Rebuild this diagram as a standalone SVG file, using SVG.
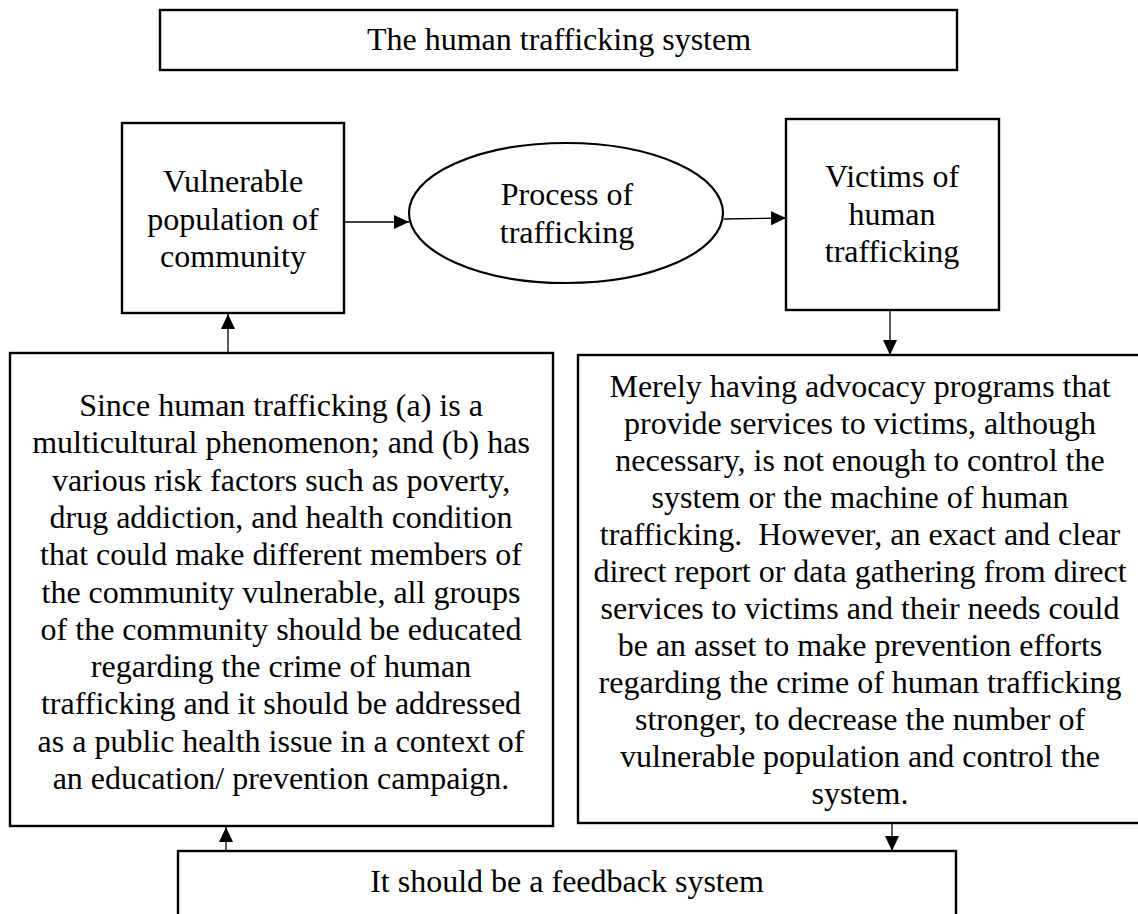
<svg xmlns="http://www.w3.org/2000/svg" width="1138" height="914" viewBox="0 0 1138 914">
<style>
.box{fill:#fff;stroke:#000;stroke-width:2.4}
.ell{fill:#fff;stroke:#000;stroke-width:2.2}
.t{font-family:"Liberation Serif","Times New Roman",serif;font-size:32px;fill:#000;text-anchor:middle}
.c{stroke:#000;stroke-width:1.3;fill:none}
</style>
<defs>
<marker id="ah" markerUnits="userSpaceOnUse" markerWidth="16" markerHeight="14" refX="15" refY="7" orient="auto">
<path d="M0,0 L15,7 L0,14 Z" fill="#000"/>
</marker>
</defs>
<rect width="1138" height="914" fill="#fff"/>
<g id="title">
<rect class="box" x="160" y="10" width="797" height="60"/>
<text class="t" x="559" y="50">The human trafficking system</text>
</g>
<g id="vulnerable">
<rect class="box" x="122" y="123" width="222" height="190"/>
<text class="t" x="233" y="192">Vulnerable</text>
<text class="t" x="233" y="230">population of</text>
<text class="t" x="233" y="267">community</text>
</g>
<g id="process">
<ellipse class="ell" cx="566" cy="213" rx="157" ry="70"/>
<text class="t" x="567" y="205">Process of</text>
<text class="t" x="567" y="243">trafficking</text>
</g>
<g id="victims">
<rect class="box" x="786" y="119" width="213" height="191"/>
<text class="t" x="892" y="187">Victims of</text>
<text class="t" x="892" y="225">human</text>
<text class="t" x="892" y="262">trafficking</text>
</g>
<g id="education">
<rect class="box" x="10" y="353" width="543" height="473"/>
<text class="t" x="281" y="416">Since human trafficking (a) is a</text>
<text class="t" x="281" y="453.3">multicultural phenomenon; and (b) has</text>
<text class="t" x="281" y="490.6">various risk factors such as poverty,</text>
<text class="t" x="281" y="527.9">drug addiction, and health condition</text>
<text class="t" x="281" y="565.2">that could make different members of</text>
<text class="t" x="281" y="602.5">the community vulnerable, all groups</text>
<text class="t" x="281" y="639.8">of the community should be educated</text>
<text class="t" x="281" y="677.1">regarding the crime of human</text>
<text class="t" x="281" y="714.4">trafficking and it should be addressed</text>
<text class="t" x="281" y="751.7">as a public health issue in a context of</text>
<text class="t" x="281" y="789">an education/ prevention campaign.</text>
</g>
<g id="advocacy">
<rect class="box" x="578" y="355" width="564" height="468"/>
<text class="t" x="860" y="397">Merely having advocacy programs that</text>
<text class="t" x="860" y="434">provide services to victims, although</text>
<text class="t" x="860" y="471">necessary, is not enough to control the</text>
<text class="t" x="860" y="508">system or the machine of human</text>
<text class="t" x="860" y="545">trafficking.&#160; However, an exact and clear</text>
<text class="t" x="860" y="582">direct report or data gathering from direct</text>
<text class="t" x="860" y="619">services to victims and their needs could</text>
<text class="t" x="860" y="656">be an asset to make prevention efforts</text>
<text class="t" x="860" y="693">regarding the crime of human trafficking</text>
<text class="t" x="860" y="730">stronger, to decrease the number of</text>
<text class="t" x="860" y="767">vulnerable population and control the</text>
<text class="t" x="860" y="804">system.</text>
</g>
<g id="feedback">
<rect class="box" x="178" y="851" width="778" height="80"/>
<text class="t" x="567" y="892">It should be a feedback system</text>
</g>
<g id="connectors">
<line class="c" x1="344" y1="222" x2="409" y2="222" marker-end="url(#ah)"/>
<line class="c" x1="724" y1="219" x2="786" y2="218" marker-end="url(#ah)"/>
<line class="c" x1="890" y1="310" x2="890" y2="355" marker-end="url(#ah)"/>
<line class="c" x1="228" y1="353" x2="228" y2="314" marker-end="url(#ah)"/>
<line class="c" x1="226" y1="851" x2="226" y2="827" marker-end="url(#ah)"/>
<line class="c" x1="892" y1="823" x2="892" y2="851" marker-end="url(#ah)"/>
</g>
</svg>
